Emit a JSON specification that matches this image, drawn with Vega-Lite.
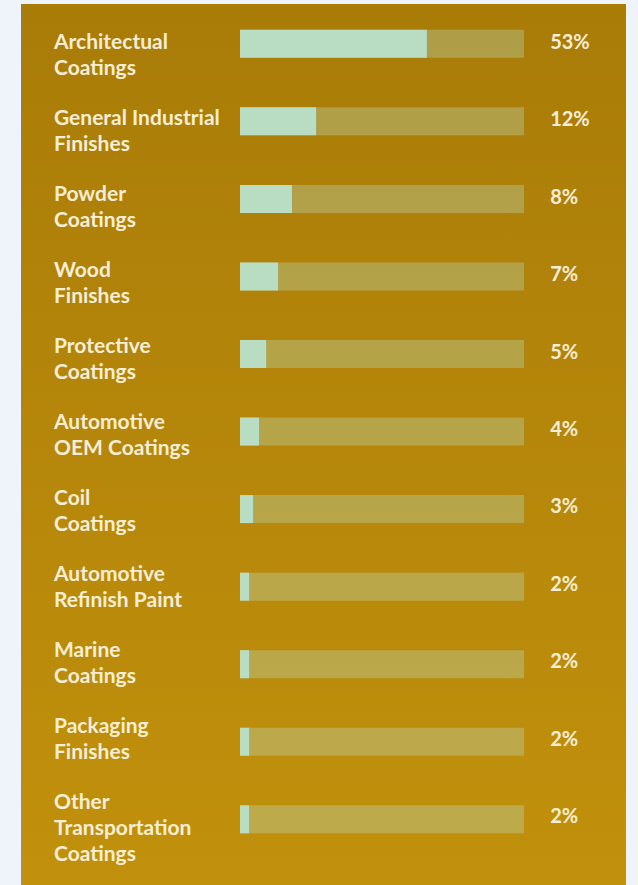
{
  "$schema": "https://vega.github.io/schema/vega-lite/v6.json",
  "width": 605,
  "height": 881,
  "autosize": {"type": "none"},
  "padding": {"left": 21, "top": 4, "right": 12, "bottom": 0},
  "background": "#eff3fa",
  "config": {
    "view": {
      "stroke": null,
      "fill": {
        "gradient": "linear",
        "x1": 0, "y1": 0, "x2": 0, "y2": 1,
        "stops": [
          {"offset": 0, "color": "#a97c08"},
          {"offset": 1, "color": "#c1910c"}
        ]
      }
    }
  },
  "data": {
    "values": [
      {"segment": "Architectual\nCoatings", "share": "53%", "fill": 65.8},
      {"segment": "General Industrial\nFinishes", "share": "12%", "fill": 26.8},
      {"segment": "Powder\nCoatings", "share": "8%", "fill": 18.3},
      {"segment": "Wood\nFinishes", "share": "7%", "fill": 13.4},
      {"segment": "Protective\nCoatings", "share": "5%", "fill": 9.2},
      {"segment": "Automotive\nOEM Coatings", "share": "4%", "fill": 6.7},
      {"segment": "Coil\nCoatings", "share": "3%", "fill": 4.6},
      {"segment": "Automotive\nRefinish Paint", "share": "2%", "fill": 3.2},
      {"segment": "Marine\nCoatings", "share": "2%", "fill": 3.2},
      {"segment": "Packaging\nFinishes", "share": "2%", "fill": 3.2},
      {"segment": "Other\nTransportation\nCoatings", "share": "2%", "fill": 3.2}
    ]
  },
  "resolve": {"scale": {"y": "independent"}},
  "layer": [
    {
      "mark": {"type": "bar", "height": 28, "color": "#b9ddc0", "opacity": 0.35},
      "encoding": {
        "y": {"field": "segment", "type": "nominal", "sort": null, "axis": null,
              "scale": {"type": "point", "padding": 0, "range": [39.8, 815.3]}},
        "x": {"datum": 100, "type": "quantitative", "axis": null,
              "scale": {"domain": [0, 100], "range": [219, 503]}}
      }
    },
    {
      "mark": {"type": "bar", "height": 28, "color": "#b9ddc2"},
      "encoding": {
        "y": {"field": "segment", "type": "nominal", "sort": null, "axis": null,
              "scale": {"type": "point", "padding": 0, "range": [39.8, 815.3]}},
        "x": {"field": "fill", "type": "quantitative"}
      }
    },
    {
      "mark": {"type": "text", "align": "left", "baseline": "alphabetic", "dy": 7,
               "font": "Lato", "fontWeight": "bold", "fontSize": 20, "color": "#f6eed6"},
      "encoding": {
        "y": {"field": "segment", "type": "nominal", "sort": null, "axis": null,
              "scale": {"type": "point", "padding": 0, "range": [38, 812]}},
        "x": {"datum": 109.2, "type": "quantitative"},
        "text": {"field": "share"}
      }
    },
    {
      "mark": {"type": "text", "align": "left", "baseline": "alphabetic", "dy": 7.5,
               "lineBreak": "\n", "lineHeight": 26,
               "font": "Lato", "fontWeight": "bold", "fontSize": 21, "color": "#f6eed6"},
      "encoding": {
        "y": {"field": "segment", "type": "nominal", "sort": null, "axis": null,
              "scale": {"type": "point", "padding": 0, "range": [37, 797]}},
        "x": {"datum": -65.5, "type": "quantitative"},
        "text": {"field": "segment"}
      }
    }
  ]
}
